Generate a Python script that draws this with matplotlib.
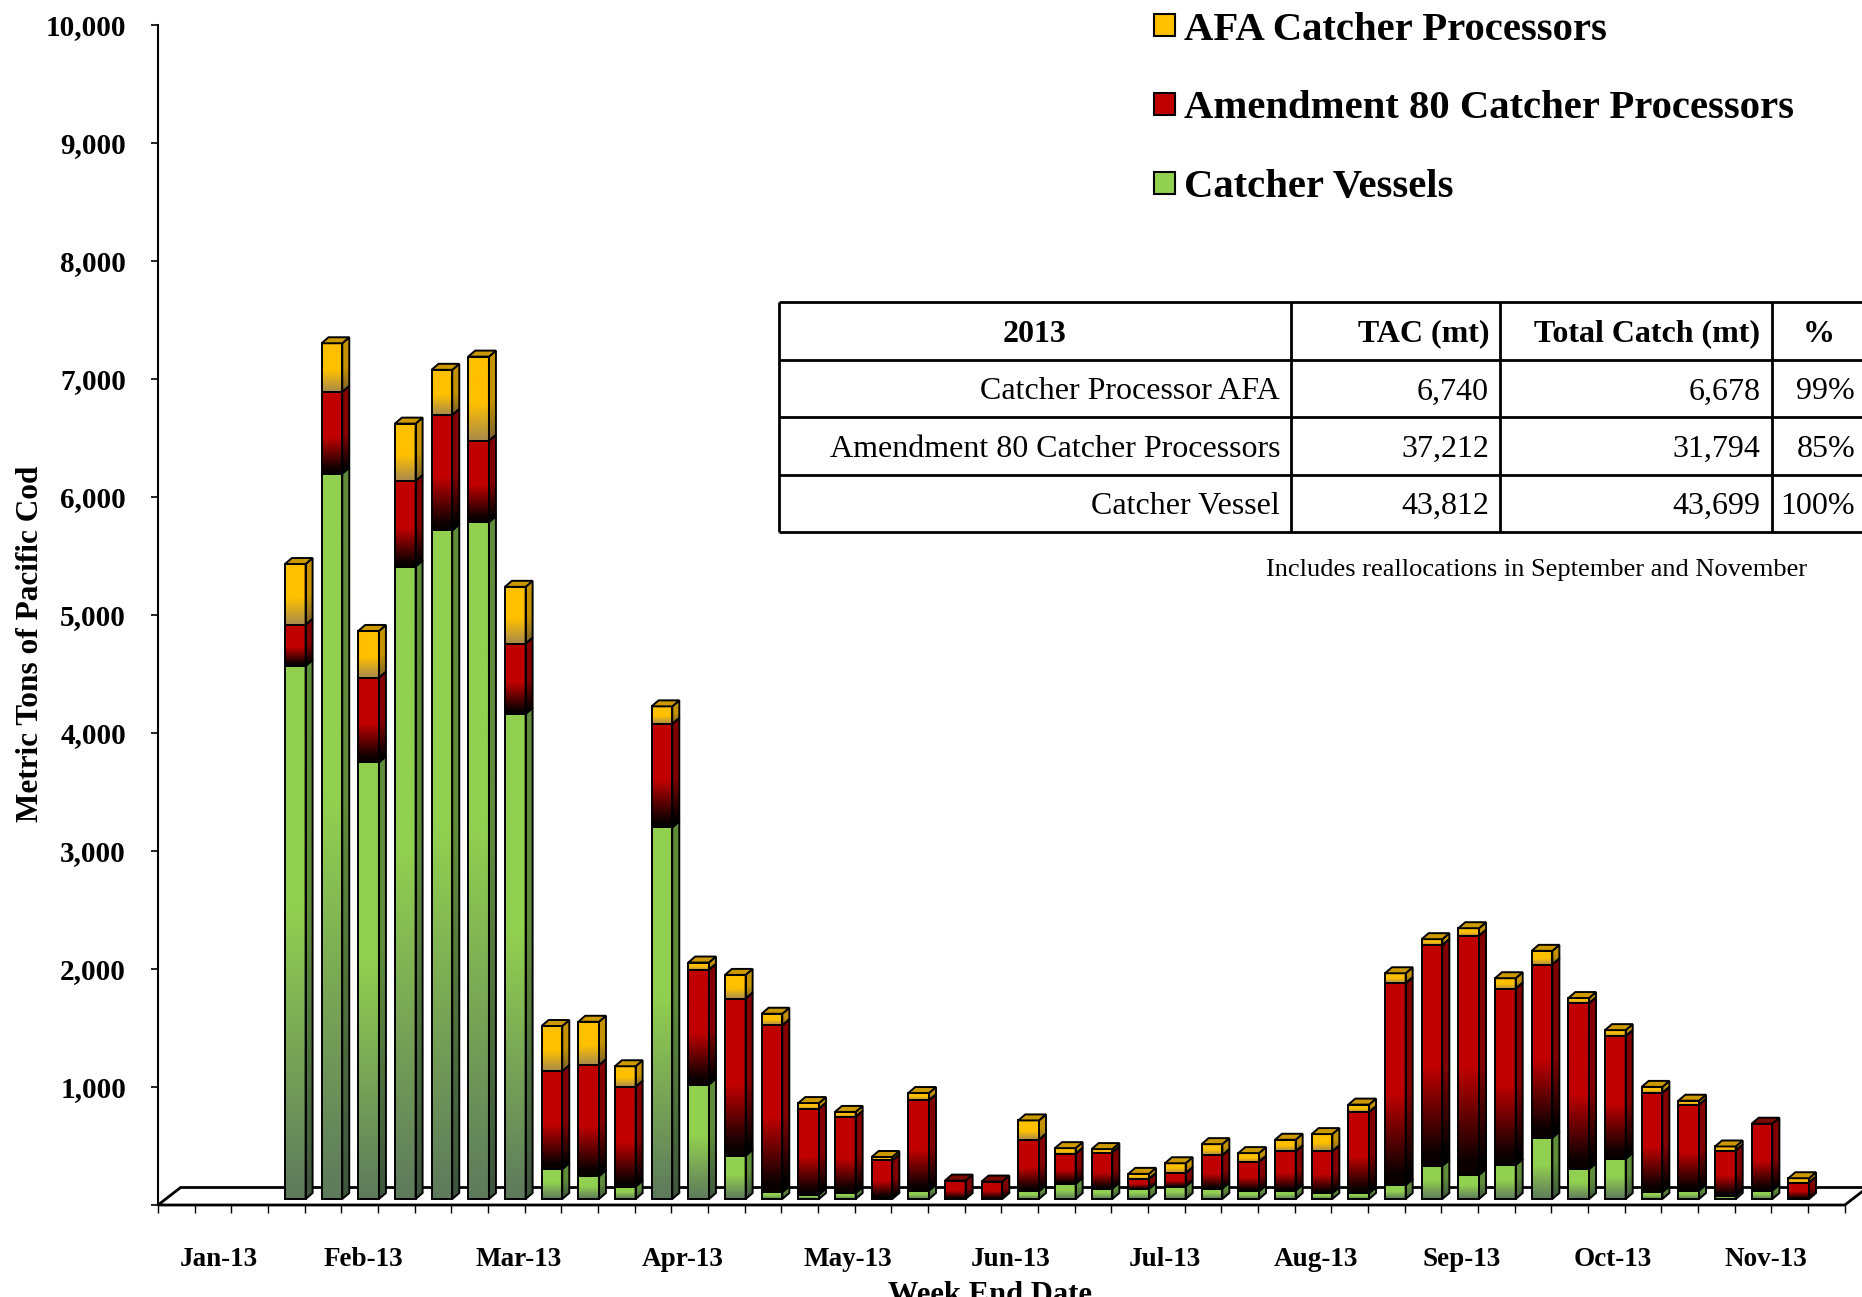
import numpy as np
import pandas as pd
import matplotlib
matplotlib.use("Agg")
import matplotlib.pyplot as plt
from matplotlib.patches import Rectangle, Polygon, Patch
from matplotlib.font_manager import FontProperties

# ---------------- data ----------------
weeks = pd.date_range("2013-01-05", periods=46, freq="7D")   # week end dates

catcher_vessels = [0, 0, 0, 4517, 6147, 3700, 5359, 5666, 5736, 4111, 253, 193, 105, 3149,
                   970, 366, 57, 37, 49, 10, 71, 0, 0, 66, 128, 88, 85, 105, 88, 66, 71, 49,
                   49, 117, 281, 204, 287, 519, 253, 340, 57, 71, 26, 71, 0, 0]
amendment80 = [0, 0, 0, 349, 692, 717, 725, 978, 689, 595, 830, 940, 845, 876, 972, 1332,
               1414, 728, 646, 317, 765, 156, 148, 436, 255, 306, 85, 113, 283, 249, 332, 354,
               686, 1711, 1870, 2026, 1496, 1468, 1405, 1040, 842, 728, 385, 567, 139, 0]
afa_cp = [0, 0, 0, 515, 413, 397, 487, 383, 714, 482, 383, 369, 175, 150, 62, 201, 99, 48,
          43, 29, 62, 0, 0, 164, 48, 29, 43, 85, 94, 74, 99, 147, 65, 85, 51, 65, 88, 116, 45,
          51, 51, 34, 34, 0, 37, 0]

series_names = ["AFA Catcher Processors", "Amendment 80 Catcher Processors", "Catcher Vessels"]

month_labels = ["Jan-13", "Feb-13", "Mar-13", "Apr-13", "May-13", "Jun-13", "Jul-13",
                "Aug-13", "Sep-13", "Oct-13", "Nov-13"]
month_label_pos = [1.65, 5.6, 9.84, 14.3, 18.8, 23.25, 27.46, 31.57, 35.56, 39.67, 43.85]

yticks = list(range(0, 10001, 1000))

table_header = ["2013", "TAC (mt)", "Total Catch (mt)", "%"]
table_sectors = ["Catcher Processor AFA", "Amendment 80 Catcher Processors", "Catcher Vessel"]
table_tac = [6740, 37212, 43812]
table_catch = [6678, 31794, 43699]
note_text = "Includes reallocations in September and November"

# ---------------- styling ----------------
SERIF = "Liberation Serif"
W_PX, H_PX = 1862, 1297
fig = plt.figure(figsize=(W_PX / 100, H_PX / 100), dpi=100)
fig.patch.set_facecolor("white")

AX_L, AX_R, AX_B, AX_T = 158, 1844.8, 1205, 25
ax = fig.add_axes([AX_L / W_PX, (H_PX - AX_B) / H_PX, (AX_R - AX_L) / W_PX, (AX_B - AX_T) / H_PX])
n = len(weeks)
ax.set_xlim(0, n)
ax.set_ylim(0, 10000)
ax.set_autoscale_on(False)

px_x = n / (AX_R - AX_L)
px_y = 10000 / (AX_B - AX_T)
DX, DY = 7 * px_x, 6 * px_y          # bar depth
FDX, FDY = 22.6 * px_x, 17.5 * px_y  # floor depth
BASE = 6 * px_y
OFF, BW = 0.46, 0.565


def hexrgb(h):
    h = h.lstrip("#")
    return np.array([int(h[i:i + 2], 16) / 255 for i in (0, 2, 4)])


def gradient(c_top, c_bot, t0, t1, nn=96):
    a, b = hexrgb(c_top), hexrgb(c_bot)
    t = np.linspace(0, 1, nn)
    f = np.clip((t - t0) / (t1 - t0), 0, 1)
    return (a[None, :] * (1 - f[:, None]) + b[None, :] * f[:, None])[:, None, :]


styles = {
    "green": dict(front=gradient("#92D050", "#5E7A5C", 0.45, 1.0),
                  side=gradient("#5E8C3A", "#3E553E", 0.45, 1.0), top="#6E9E40"),
    "red": dict(front=gradient("#C00000", "#0A0000", 0.55, 0.95),
                side=gradient("#820000", "#000000", 0.55, 0.95), top="#7A0A00"),
    "yellow": dict(front=gradient("#FFC000", "#A88A4C", 0.55, 1.0),
                   side=gradient("#C49200", "#7A6030", 0.55, 1.0), top="#CC9A00"),
}
EDGE_LW = 1.4

# floor
floor = Polygon([(0, 0), (FDX, FDY), (n + FDX, FDY), (n, 0)], closed=True,
                facecolor="white", edgecolor="black", lw=2.0, clip_on=False, zorder=1)
ax.add_patch(floor)

for i in range(n):
    bottom = BASE
    topkey = None
    x0 = i + OFF
    x1 = x0 + BW
    for val, key in ((catcher_vessels[i], "green"), (amendment80[i], "red"), (afa_cp[i], "yellow")):
        if val <= 0:
            continue
        y0, y1 = bottom, bottom + val
        st = styles[key]
        ax.imshow(st["front"], extent=[x0, x1, y0, y1], aspect="auto", origin="upper",
                  interpolation="bilinear", zorder=3)
        ax.add_patch(Rectangle((x0, y0), BW, val, fill=False, edgecolor="black", lw=EDGE_LW, zorder=4))
        side = Polygon([(x1, y0), (x1 + DX, y0 + DY), (x1 + DX, y1 + DY), (x1, y1)], closed=True,
                       fill=False, edgecolor="black", lw=EDGE_LW, zorder=4)
        ax.add_patch(side)
        im = ax.imshow(st["side"], extent=[x1, x1 + DX, y0, y1 + DY], aspect="auto", origin="upper",
                       interpolation="bilinear", zorder=3)
        im.set_clip_path(side)
        bottom = y1
        topkey = key
    if topkey is not None:
        ax.add_patch(Polygon([(x0, bottom), (x1, bottom), (x1 + DX, bottom + DY), (x0 + DX, bottom + DY)],
                             closed=True, facecolor=styles[topkey]["top"], edgecolor="black",
                             lw=EDGE_LW, zorder=4))

ax.set_xlim(0, n)
ax.set_ylim(0, 10000)

# axes
for s in ("top", "right", "bottom"):
    ax.spines[s].set_visible(False)
ax.spines["left"].set_linewidth(1.5)
ax.set_yticks(yticks)
ax.set_yticklabels(["" if v == 0 else f"{v:,}" for v in yticks],
                   fontfamily=SERIF, fontweight="bold", fontsize=21)
ax.tick_params(axis="y", direction="out", length=5.4, width=1.2, pad=17.6, colors="black")
ax.set_xticks(range(n + 1))
ax.set_xticklabels([])
ax.tick_params(axis="x", which="major", direction="out", length=5.8, width=1.0)
ax.set_xticks(month_label_pos, minor=True)
ax.set_xticklabels(month_labels, minor=True, fontfamily=SERIF, fontweight="bold", fontsize=19.5)
ax.tick_params(axis="x", which="minor", length=0, pad=30.6)

ax.set_xlabel("Week End Date", fontfamily=SERIF, fontweight="bold", fontsize=22)
ax.xaxis.set_label_coords((990 - AX_L) / (AX_R - AX_L), (AX_B - 1281) / (AX_B - AX_T))
fig.text(30.5 / W_PX, 1 - 644 / H_PX, "Metric Tons of Pacific Cod", rotation=90, ha="center",
         va="center", fontfamily=SERIF, fontweight="bold", fontsize=22.5)

# legend
handles = [Patch(facecolor="#FFC000", edgecolor="black", lw=1.5),
           Patch(facecolor="#C00000", edgecolor="black", lw=1.5),
           Patch(facecolor="#92D050", edgecolor="black", lw=1.5)]
fig.legend(handles, series_names, loc="upper left", bbox_to_anchor=(1154 / W_PX, 1 - 11.5 / H_PX),
           frameon=False, prop=FontProperties(family=SERIF, weight="bold", size=29.3),
           handlelength=0.52, handleheight=0.45, handletextpad=0.22, labelspacing=1.03,
           borderpad=0, borderaxespad=0)

# table (overlay in pixel coordinates)
tax = fig.add_axes([0, 0, 1, 1])
tax.set_xlim(0, W_PX)
tax.set_ylim(H_PX, 0)
tax.axis("off")
col_edges = [779, 1291, 1500, 1771.5, 1866]
row_edges = [301.7, 359.5, 417.2, 474.5, 531.8]
for y in row_edges:
    tax.plot([col_edges[0], col_edges[-1]], [y, y], color="black", lw=2.0, solid_capstyle="butt")
for x in col_edges:
    tax.plot([x, x], [row_edges[0], row_edges[-1]], color="black", lw=2.0, solid_capstyle="butt")
PAD = 11
TXT_DY = 3.5
rc = [(row_edges[k] + row_edges[k + 1]) / 2 + TXT_DY for k in range(4)]
hdr_font = dict(fontfamily=SERIF, fontweight="bold", fontsize=23, va="center")
body_font = dict(fontfamily=SERIF, fontsize=23, va="center")
tax.text((col_edges[0] + col_edges[1]) / 2, rc[0], table_header[0], ha="center", **hdr_font)
tax.text(col_edges[2] - PAD, rc[0], table_header[1], ha="right", **hdr_font)
tax.text(col_edges[3] - PAD, rc[0], table_header[2], ha="right", **hdr_font)
tax.text((col_edges[3] + col_edges[4]) / 2, rc[0], table_header[3], ha="center", **hdr_font)
for k in range(3):
    y = rc[k + 1]
    pct = round(table_catch[k] / table_tac[k] * 100)
    tax.text(col_edges[1] - PAD, y, table_sectors[k], ha="right", **body_font)
    tax.text(col_edges[2] - PAD, y, f"{table_tac[k]:,}", ha="right", **body_font)
    tax.text(col_edges[3] - PAD, y, f"{table_catch[k]:,}", ha="right", **body_font)
    tax.text(col_edges[4] - PAD, y, f"{pct}%", ha="right", **body_font)
tax.text(1537, 570, note_text, ha="center", va="center", fontfamily=SERIF, fontsize=19)

fig.savefig("out.png", dpi=100)
